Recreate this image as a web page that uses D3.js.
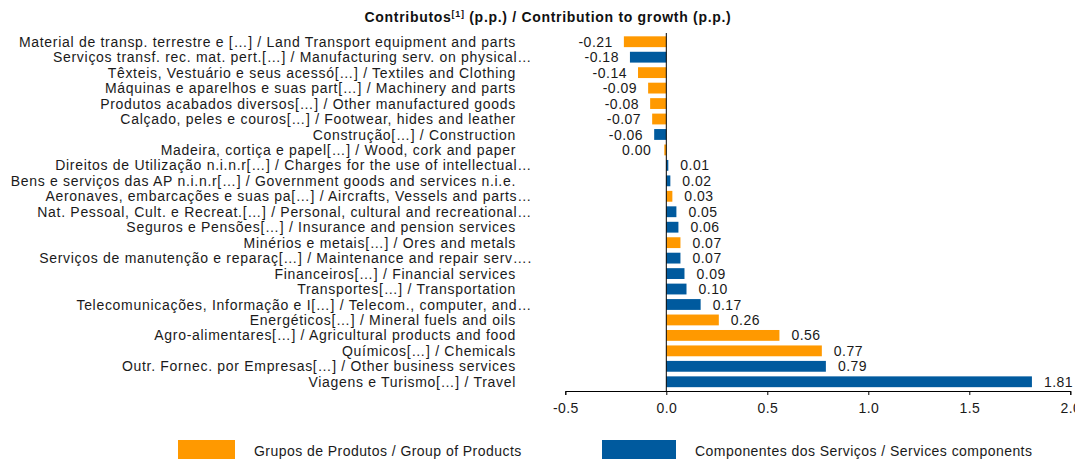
<!DOCTYPE html>
<html>
<head>
<meta charset="utf-8">
<script src="https://cdn.jsdelivr.net/npm/d3@7"></script>
<style>
  html, body { margin: 0; padding: 0; background: #fff; }
  svg { display: block; font-family: "Liberation Sans", Arial, sans-serif; }
</style>
</head>
<body>
<svg id="chart" width="1075" height="459"></svg>
<script>
// ---- data ----
const categories = [
  "Material de transp. terrestre e […] / Land Transport equipment and parts",
  "Serviços transf. rec. mat. pert.[…] / Manufacturing serv. on physical…",
  "Têxteis, Vestuário e seus acessó[…] / Textiles and Clothing ",
  "Máquinas e aparelhos e suas part[…] / Machinery and parts",
  "Produtos acabados diversos[…] / Other manufactured goods",
  "Calçado, peles e couros[…] / Footwear, hides and leather",
  "Construção[…] / Construction",
  "Madeira, cortiça e papel[…] / Wood, cork and paper",
  "Direitos de Utilização n.i.n.r[…] / Charges for the use of intellectual…",
  "Bens e serviços das AP n.i.n.r[…] / Government goods and services n.i.e.",
  "Aeronaves, embarcações e suas pa[…] / Aircrafts, Vessels and parts…",
  "Nat. Pessoal, Cult. e Recreat.[…] / Personal, cultural and recreational…",
  "Seguros e Pensões[…] / Insurance and pension services",
  "Minérios e metais[…] / Ores and metals ",
  "Serviços de manutenção e reparaç[…] / Maintenance and repair serv….",
  "Financeiros[…] / Financial services",
  "Transportes[…] / Transportation",
  "Telecomunicações, Informação e I[…] / Telecom., computer, and…",
  "Energéticos[…] / Mineral fuels and oils",
  "Agro-alimentares[…] / Agricultural products and food",
  "Químicos[…] / Chemicals",
  "Outr. Fornec. por Empresas[…] / Other business services",
  "Viagens e Turismo[…] / Travel"
];
const values = [-0.21, -0.18, -0.14, -0.09, -0.08, -0.07, -0.06, -0.004, 0.01, 0.02, 0.03, 0.05, 0.06, 0.07, 0.07, 0.09, 0.10, 0.17, 0.26, 0.56, 0.77, 0.79, 1.81];
// 0 = Grupos de Produtos (goods), 1 = Componentes dos Serviços (services)
const groups = [0, 1, 0, 0, 0, 0, 1, 0, 1, 1, 0, 1, 1, 0, 1, 1, 1, 1, 0, 0, 0, 1, 1];
const seriesNames = ["Grupos de Produtos / Group of Products", "Componentes dos Serviços / Services components"];
const xTicks = [-0.5, 0.0, 0.5, 1.0, 1.5, 2.0];
const titleMain = "Contributos";
const titleSup = "[1]";
const titleRest = " (p.p.) / Contribution to growth (p.p.)";

// ---- styles ----
const colors = ["#FF9900", "#005A9E"];
const textColor = "#1a1a1a";

const svg = d3.select("#chart");
const x = d3.scaleLinear().domain([-0.5, 2.0]).range([565.3, 1070.3]);
const y = d3.scaleBand().domain(categories).range([34, 389.5]).paddingInner(0.3).paddingOuter(0.15);

const rows = categories.map((c, i) => ({ c, v: values[i], g: groups[i] }));
const fmt = v => { const s = d3.format(".2f")(v).replace("\u2212", "-"); return s === "-0.00" ? "0.00" : s; };

// title
const t = svg.append("text").attr("x", 548).attr("y", 22).attr("text-anchor", "middle")
  .attr("font-weight", "bold").attr("font-size", 14).attr("letter-spacing", 0.7).attr("fill", "#111");
t.append("tspan").text(titleMain);
t.append("tspan").text(titleSup).attr("font-size", 9).attr("dy", -5);
t.append("tspan").text(titleRest).attr("dy", 5);

// bars
svg.append("g").selectAll("rect").data(rows).join("rect")
  .attr("x", d => Math.min(x(d.v), x(0) - (d.v < 0 ? 2 : 0)))
  .attr("y", d => y(d.c))
  .attr("width", d => Math.max(Math.abs(x(d.v) - x(0)), 2))
  .attr("height", y.bandwidth())
  .attr("fill", d => colors[d.g]);

// value labels
svg.append("g").selectAll("text").data(rows).join("text")
  .attr("x", d => d.v < 0 ? Math.min(x(d.v), x(0) - 4) - 11 : x(d.v) + 12)
  .attr("y", d => y(d.c) + y.bandwidth() / 2)
  .attr("dy", "0.36em")
  .attr("text-anchor", d => d.v < 0 ? "end" : "start")
  .attr("font-size", 14).attr("letter-spacing", 0.5).attr("fill", textColor)
  .text(d => fmt(d.v));

// category labels
svg.append("g").selectAll("text").data(rows).join("text")
  .attr("x", d => d.c.endsWith("…") || d.c.endsWith("….") ? 532 : 516)
  .attr("y", d => y(d.c) + y.bandwidth() / 2)
  .attr("dy", "0.36em")
  .attr("text-anchor", "end")
  .attr("font-size", 14).attr("letter-spacing", 0.7).attr("fill", textColor)
  .text(d => d.c);

// zero line
svg.append("line").attr("x1", x(0)).attr("x2", x(0)).attr("y1", 33).attr("y2", 391)
  .attr("stroke", "#000").attr("stroke-width", 1);

// x axis
const ax = svg.append("g").attr("transform", "translate(0,391)")
  .call(d3.axisBottom(x).tickValues(xTicks).tickFormat(d => d3.format(".1f")(d).replace("\u2212", "-")).tickSizeOuter(0).tickSize(4));
ax.select(".domain").attr("stroke", "#000");
ax.selectAll(".tick line").attr("stroke", "#000");
ax.selectAll(".tick text").attr("font-size", 14).attr("fill", textColor).attr("dy", "1.05em")
  .attr("font-family", "Liberation Sans, Arial, sans-serif").attr("letter-spacing", 0.4);

// legend
const legX = [178, 602], legW = [57, 74], legTx = [254, 695];
const leg = svg.append("g");
seriesNames.forEach((n, i) => {
  leg.append("rect").attr("x", legX[i]).attr("y", 440).attr("width", legW[i]).attr("height", 19).attr("fill", colors[i]);
  leg.append("text").attr("x", legTx[i]).attr("y", 456).attr("font-size", 14).attr("letter-spacing", 0.45).attr("fill", textColor).text(n);
});
</script>
</body>
</html>
